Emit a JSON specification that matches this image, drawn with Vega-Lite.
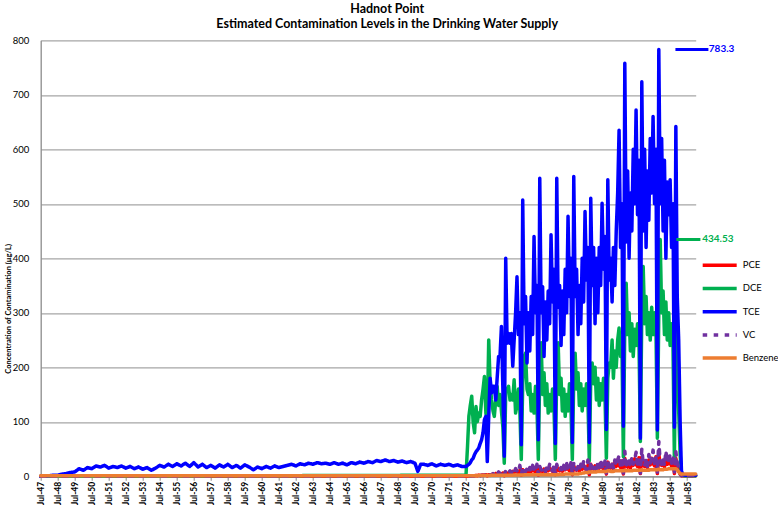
{
"$schema": "https://vega.github.io/schema/vega-lite/v6.json",
"width": 655, "height": 436,
"autosize": {"type": "none"},
"padding": {"left": 40.7, "top": 40.3, "right": 82, "bottom": 28.7},
"background": "white",
"config": {"view": {"stroke": null}, "font": "Lato", "axis": {"labelOverlap": false}},
"title": {"text": ["Hadnot Point", "Estimated Contamination Levels in the Drinking Water Supply"], "fontSize": 12.5, "fontWeight": "bold", "anchor": "middle", "frame": "group", "dx": 19, "lineHeight": 15, "offset": 5, "color": "black", "font": "Lato"},
"datasets": {
"main": [
{"d":"1947-07-01","PCE":0,"DCE":0,"TCE":0,"VC":0,"Benzene":1},
{"d":"1947-10-01","TCE":0.5,"Benzene":1},{"d":"1948-01-01","TCE":1,"Benzene":1},{"d":"1948-04-01","TCE":2,"Benzene":1},{"d":"1948-07-01","TCE":2,"Benzene":1},{"d":"1948-10-01","TCE":4,"Benzene":1},
{"d":"1949-01-01","TCE":5,"Benzene":1},{"d":"1949-04-01","TCE":7,"Benzene":1},{"d":"1949-07-01","TCE":8,"Benzene":1},{"d":"1949-10-01","TCE":14,"Benzene":1},
{"d":"1950-01-01","TCE":11,"Benzene":1},{"d":"1950-04-01","TCE":16,"Benzene":1},{"d":"1950-07-01","TCE":14,"Benzene":1},{"d":"1950-10-01","TCE":19,"Benzene":1},
{"d":"1951-01-01","TCE":17,"Benzene":1},{"d":"1951-04-01","TCE":20,"Benzene":1},{"d":"1951-07-01","TCE":15,"Benzene":1},{"d":"1951-10-01","TCE":18,"Benzene":1},
{"d":"1952-01-01","TCE":16,"Benzene":1},{"d":"1952-04-01","TCE":19,"Benzene":1},{"d":"1952-07-01","TCE":15,"Benzene":1},{"d":"1952-10-01","TCE":18,"Benzene":1},
{"d":"1953-01-01","TCE":14,"Benzene":1},{"d":"1953-04-01","TCE":17,"Benzene":1},{"d":"1953-07-01","TCE":13,"Benzene":1},{"d":"1953-10-01","TCE":16,"Benzene":1},
{"d":"1954-01-01","TCE":11,"Benzene":1},{"d":"1954-04-01","TCE":15,"Benzene":1},{"d":"1954-07-01","TCE":20,"Benzene":1},{"d":"1954-10-01","TCE":17,"Benzene":1},
{"d":"1955-01-01","TCE":22,"Benzene":1},{"d":"1955-04-01","TCE":18,"Benzene":1},{"d":"1955-07-01","TCE":23,"Benzene":1},{"d":"1955-10-01","TCE":19,"Benzene":1},
{"d":"1956-01-01","TCE":24,"Benzene":1},{"d":"1956-04-01","TCE":18,"Benzene":1},{"d":"1956-07-01","TCE":25,"Benzene":1},{"d":"1956-10-01","TCE":17,"Benzene":1},
{"d":"1957-01-01","TCE":22,"Benzene":1},{"d":"1957-04-01","TCE":16,"Benzene":1},{"d":"1957-07-01","TCE":20,"Benzene":1},{"d":"1957-10-01","TCE":15,"Benzene":1},
{"d":"1958-01-01","TCE":21,"Benzene":1},{"d":"1958-04-01","TCE":17,"Benzene":1},{"d":"1958-07-01","TCE":22,"Benzene":1},{"d":"1958-10-01","TCE":16,"Benzene":1},
{"d":"1959-01-01","TCE":20,"Benzene":1},{"d":"1959-04-01","TCE":15,"Benzene":1},{"d":"1959-07-01","TCE":21,"Benzene":1},{"d":"1959-10-01","TCE":17,"Benzene":1},
{"d":"1960-01-01","TCE":12,"Benzene":1},{"d":"1960-04-01","TCE":17,"Benzene":1},{"d":"1960-07-01","TCE":14,"Benzene":1},{"d":"1960-10-01","TCE":18,"Benzene":1},
{"d":"1961-01-01","TCE":15,"Benzene":1},{"d":"1961-04-01","TCE":19,"Benzene":1},{"d":"1961-07-01","TCE":16,"Benzene":1},{"d":"1961-10-01","TCE":18,"Benzene":1},
{"d":"1962-01-01","TCE":20,"Benzene":1},{"d":"1962-04-01","TCE":22,"Benzene":1},{"d":"1962-07-01","TCE":19,"Benzene":1},{"d":"1962-10-01","TCE":23,"Benzene":1},
{"d":"1963-01-01","TCE":21,"Benzene":1},{"d":"1963-04-01","TCE":24,"Benzene":1},{"d":"1963-07-01","TCE":22,"Benzene":1},{"d":"1963-10-01","TCE":25,"Benzene":1},
{"d":"1964-01-01","TCE":23,"Benzene":1},{"d":"1964-04-01","TCE":24,"Benzene":1},{"d":"1964-07-01","TCE":22,"Benzene":1},{"d":"1964-10-01","TCE":25,"Benzene":1},
{"d":"1965-01-01","TCE":22,"Benzene":1},{"d":"1965-04-01","TCE":24,"Benzene":1},{"d":"1965-07-01","TCE":21,"Benzene":1},{"d":"1965-10-01","TCE":25,"Benzene":1},
{"d":"1966-01-01","TCE":23,"Benzene":1},{"d":"1966-04-01","TCE":26,"Benzene":1},{"d":"1966-07-01","TCE":24,"Benzene":1},{"d":"1966-10-01","TCE":27,"Benzene":1},
{"d":"1967-01-01","TCE":25,"Benzene":1},{"d":"1967-04-01","TCE":29,"Benzene":1},{"d":"1967-07-01","TCE":27,"Benzene":1},{"d":"1967-10-01","TCE":30,"Benzene":1},
{"d":"1968-01-01","TCE":27,"Benzene":1},{"d":"1968-04-01","TCE":29,"Benzene":1},{"d":"1968-07-01","TCE":26,"Benzene":1},{"d":"1968-10-01","TCE":28,"Benzene":1},
{"d":"1969-01-01","TCE":25,"Benzene":1},{"d":"1969-04-01","TCE":27,"Benzene":1},{"d":"1969-07-01","TCE":24,"Benzene":1},{"d":"1969-09-01","TCE":9,"Benzene":1},{"d":"1969-11-01","TCE":22,"Benzene":1},
{"d":"1970-01-01","TCE":22,"Benzene":1},{"d":"1970-04-01","TCE":20,"Benzene":1},{"d":"1970-07-01","TCE":23,"Benzene":1},{"d":"1970-10-01","TCE":19,"Benzene":1},
{"d":"1971-01-01","TCE":22,"Benzene":1},{"d":"1971-04-01","TCE":20,"Benzene":1},{"d":"1971-07-01","TCE":22,"Benzene":1},{"d":"1971-10-01","TCE":19,"Benzene":1},
{"d":"1972-01-01","TCE":21,"Benzene":1},{"d":"1972-04-01","TCE":18,"Benzene":1},
{"d":"1972-07-01","PCE":0,"DCE":2,"TCE":18,"VC":0,"Benzene":1},
{"d":"1972-08-01","PCE":0,"DCE":52,"TCE":20,"VC":0,"Benzene":1},
{"d":"1972-09-01","PCE":0.5,"DCE":110,"TCE":22,"VC":0,"Benzene":1},
{"d":"1972-10-01","PCE":0.5,"DCE":130,"TCE":25,"VC":0,"Benzene":1},
{"d":"1972-11-01","PCE":1,"DCE":147,"TCE":30,"VC":0.5,"Benzene":1},
{"d":"1972-12-01","PCE":1,"DCE":100,"TCE":33,"VC":0.5,"Benzene":1},
{"d":"1973-01-01","PCE":1,"DCE":80,"TCE":40,"VC":0.5,"Benzene":1},
{"d":"1973-02-01","PCE":1.5,"DCE":128,"TCE":45,"VC":1,"Benzene":1},
{"d":"1973-03-01","PCE":1,"DCE":100,"TCE":48,"VC":1,"Benzene":1},
{"d":"1973-04-01","PCE":2,"DCE":116,"TCE":52,"VC":1.5,"Benzene":1.5},
{"d":"1973-05-01","PCE":1.5,"DCE":110,"TCE":60,"VC":1,"Benzene":1.5},
{"d":"1973-06-01","PCE":2,"DCE":140,"TCE":67,"VC":2,"Benzene":1.5},
{"d":"1973-07-01","PCE":2.5,"DCE":159,"TCE":80,"VC":1.5,"Benzene":1.5},
{"d":"1973-08-01","PCE":2,"DCE":183,"TCE":104,"VC":2,"Benzene":1.5},
{"d":"1973-09-01","PCE":3,"DCE":116,"TCE":110,"VC":3,"Benzene":1.5},
{"d":"1973-10-01","PCE":1,"DCE":100,"TCE":27,"VC":1,"Benzene":1.5},
{"d":"1973-11-01","PCE":3,"DCE":250,"TCE":110,"VC":4,"Benzene":1.5},
{"d":"1973-12-01","PCE":2.5,"DCE":170,"TCE":180,"VC":2,"Benzene":1.5},
{"d":"1974-01-01","PCE":3,"DCE":140,"TCE":153,"VC":3,"Benzene":2},
{"d":"1974-02-01","PCE":4,"DCE":120,"TCE":165,"VC":5,"Benzene":2},
{"d":"1974-03-01","PCE":3,"DCE":110,"TCE":165,"VC":3,"Benzene":2},
{"d":"1974-04-01","PCE":5,"DCE":140,"TCE":140,"VC":6,"Benzene":2},
{"d":"1974-05-01","PCE":4,"DCE":165,"TCE":180,"VC":4,"Benzene":2},
{"d":"1974-06-01","PCE":6,"DCE":130,"TCE":220,"VC":8,"Benzene":2},
{"d":"1974-07-01","PCE":5,"DCE":150,"TCE":220,"VC":5,"Benzene":2},
{"d":"1974-08-01","PCE":4,"DCE":120,"TCE":275,"VC":4,"Benzene":2},
{"d":"1974-09-01","PCE":6,"DCE":90,"TCE":160,"VC":9,"Benzene":2},
{"d":"1974-10-01","PCE":1,"DCE":24,"TCE":37,"VC":2,"Benzene":2},
{"d":"1974-11-01","PCE":7,"DCE":153,"TCE":400,"VC":10,"Benzene":2},
{"d":"1974-12-01","PCE":5,"DCE":160,"TCE":244,"VC":6,"Benzene":2},
{"d":"1975-01-01","PCE":6,"DCE":165,"TCE":262,"VC":7,"Benzene":2},
{"d":"1975-02-01","PCE":8,"DCE":140,"TCE":244,"VC":10,"Benzene":2},
{"d":"1975-03-01","PCE":5,"DCE":150,"TCE":262,"VC":6,"Benzene":2},
{"d":"1975-04-01","PCE":9,"DCE":140,"TCE":202,"VC":12,"Benzene":2},
{"d":"1975-05-01","PCE":7,"DCE":177,"TCE":250,"VC":8,"Benzene":2.5},
{"d":"1975-06-01","PCE":10,"DCE":116,"TCE":300,"VC":14,"Benzene":2.5},
{"d":"1975-07-01","PCE":8,"DCE":130,"TCE":366,"VC":10,"Benzene":2.5},
{"d":"1975-08-01","PCE":6,"DCE":160,"TCE":260,"VC":8,"Benzene":2.5},
{"d":"1975-09-01","PCE":11,"DCE":120,"TCE":300,"VC":20,"Benzene":2.5},
{"d":"1975-10-01","PCE":2,"DCE":31,"TCE":58,"VC":3,"Benzene":2.5},
{"d":"1975-11-01","PCE":12,"DCE":170,"TCE":507,"VC":16,"Benzene":2.5},
{"d":"1975-12-01","PCE":8,"DCE":220,"TCE":280,"VC":9,"Benzene":2.5},
{"d":"1976-01-01","PCE":8,"DCE":226,"TCE":330,"VC":9,"Benzene":3},
{"d":"1976-02-01","PCE":11,"DCE":160,"TCE":208,"VC":14,"Benzene":3},
{"d":"1976-03-01","PCE":7,"DCE":150,"TCE":300,"VC":8,"Benzene":3},
{"d":"1976-04-01","PCE":12,"DCE":170,"TCE":230,"VC":16,"Benzene":3},
{"d":"1976-05-01","PCE":9,"DCE":120,"TCE":330,"VC":10,"Benzene":3},
{"d":"1976-06-01","PCE":14,"DCE":150,"TCE":260,"VC":20,"Benzene":3},
{"d":"1976-07-01","PCE":10,"DCE":116,"TCE":440,"VC":12,"Benzene":3},
{"d":"1976-08-01","PCE":8,"DCE":165,"TCE":300,"VC":9,"Benzene":3},
{"d":"1976-09-01","PCE":13,"DCE":130,"TCE":350,"VC":22,"Benzene":3},
{"d":"1976-10-01","PCE":2,"DCE":31,"TCE":67,"VC":3,"Benzene":3},
{"d":"1976-11-01","PCE":15,"DCE":190,"TCE":547,"VC":18,"Benzene":3},
{"d":"1976-12-01","PCE":10,"DCE":245,"TCE":300,"VC":12,"Benzene":3},
{"d":"1977-01-01","PCE":9,"DCE":150,"TCE":348,"VC":10,"Benzene":3},
{"d":"1977-02-01","PCE":13,"DCE":190,"TCE":220,"VC":15,"Benzene":3},
{"d":"1977-03-01","PCE":8,"DCE":130,"TCE":320,"VC":9,"Benzene":3},
{"d":"1977-04-01","PCE":14,"DCE":170,"TCE":250,"VC":18,"Benzene":3},
{"d":"1977-05-01","PCE":10,"DCE":116,"TCE":340,"VC":12,"Benzene":3},
{"d":"1977-06-01","PCE":15,"DCE":150,"TCE":280,"VC":22,"Benzene":3},
{"d":"1977-07-01","PCE":12,"DCE":120,"TCE":443,"VC":13,"Benzene":3},
{"d":"1977-08-01","PCE":9,"DCE":160,"TCE":320,"VC":10,"Benzene":3},
{"d":"1977-09-01","PCE":15,"DCE":130,"TCE":380,"VC":20,"Benzene":3},
{"d":"1977-10-01","PCE":3,"DCE":31,"TCE":60,"VC":4,"Benzene":3},
{"d":"1977-11-01","PCE":17,"DCE":190,"TCE":547,"VC":22,"Benzene":3},
{"d":"1977-12-01","PCE":12,"DCE":245,"TCE":310,"VC":13,"Benzene":3},
{"d":"1978-01-01","PCE":10,"DCE":150,"TCE":350,"VC":11,"Benzene":3.5},
{"d":"1978-02-01","PCE":15,"DCE":180,"TCE":240,"VC":16,"Benzene":3.5},
{"d":"1978-03-01","PCE":9,"DCE":120,"TCE":340,"VC":10,"Benzene":3.5},
{"d":"1978-04-01","PCE":16,"DCE":160,"TCE":260,"VC":20,"Benzene":3.5},
{"d":"1978-05-01","PCE":12,"DCE":110,"TCE":380,"VC":13,"Benzene":4},
{"d":"1978-06-01","PCE":18,"DCE":150,"TCE":300,"VC":24,"Benzene":4},
{"d":"1978-07-01","PCE":13,"DCE":120,"TCE":477,"VC":14,"Benzene":4},
{"d":"1978-08-01","PCE":10,"DCE":170,"TCE":330,"VC":11,"Benzene":4},
{"d":"1978-09-01","PCE":18,"DCE":130,"TCE":400,"VC":25,"Benzene":4},
{"d":"1978-10-01","PCE":3,"DCE":31,"TCE":62,"VC":4,"Benzene":4},
{"d":"1978-11-01","PCE":19,"DCE":180,"TCE":550,"VC":24,"Benzene":4},
{"d":"1978-12-01","PCE":13,"DCE":226,"TCE":330,"VC":14,"Benzene":4},
{"d":"1979-01-01","PCE":11,"DCE":160,"TCE":380,"VC":12,"Benzene":4},
{"d":"1979-02-01","PCE":16,"DCE":190,"TCE":260,"VC":18,"Benzene":4},
{"d":"1979-03-01","PCE":10,"DCE":130,"TCE":350,"VC":11,"Benzene":5},
{"d":"1979-04-01","PCE":18,"DCE":170,"TCE":280,"VC":22,"Benzene":5},
{"d":"1979-05-01","PCE":13,"DCE":120,"TCE":400,"VC":14,"Benzene":6},
{"d":"1979-06-01","PCE":20,"DCE":160,"TCE":320,"VC":28,"Benzene":6},
{"d":"1979-07-01","PCE":15,"DCE":130,"TCE":486,"VC":16,"Benzene":7},
{"d":"1979-08-01","PCE":11,"DCE":170,"TCE":360,"VC":12,"Benzene":7},
{"d":"1979-09-01","PCE":20,"DCE":140,"TCE":420,"VC":30,"Benzene":7},
{"d":"1979-10-01","PCE":3,"DCE":28,"TCE":62,"VC":4,"Benzene":8},
{"d":"1979-11-01","PCE":22,"DCE":180,"TCE":510,"VC":26,"Benzene":8},
{"d":"1979-12-01","PCE":15,"DCE":208,"TCE":350,"VC":16,"Benzene":8},
{"d":"1980-01-01","PCE":13,"DCE":170,"TCE":420,"VC":14,"Benzene":8},
{"d":"1980-02-01","PCE":19,"DCE":200,"TCE":280,"VC":20,"Benzene":8},
{"d":"1980-03-01","PCE":12,"DCE":140,"TCE":400,"VC":13,"Benzene":8},
{"d":"1980-04-01","PCE":21,"DCE":180,"TCE":300,"VC":25,"Benzene":9},
{"d":"1980-05-01","PCE":15,"DCE":130,"TCE":420,"VC":16,"Benzene":9},
{"d":"1980-06-01","PCE":24,"DCE":170,"TCE":350,"VC":30,"Benzene":9},
{"d":"1980-07-01","PCE":17,"DCE":140,"TCE":501,"VC":18,"Benzene":9},
{"d":"1980-08-01","PCE":13,"DCE":180,"TCE":380,"VC":14,"Benzene":9},
{"d":"1980-09-01","PCE":24,"DCE":150,"TCE":440,"VC":28,"Benzene":9},
{"d":"1980-10-01","PCE":4,"DCE":33,"TCE":86,"VC":5,"Benzene":9},
{"d":"1980-11-01","PCE":26,"DCE":180,"TCE":544,"VC":30,"Benzene":10},
{"d":"1980-12-01","PCE":17,"DCE":208,"TCE":360,"VC":18,"Benzene":10},
{"d":"1981-01-01","PCE":15,"DCE":200,"TCE":400,"VC":16,"Benzene":9},
{"d":"1981-02-01","PCE":22,"DCE":250,"TCE":320,"VC":24,"Benzene":9},
{"d":"1981-03-01","PCE":14,"DCE":180,"TCE":420,"VC":15,"Benzene":9},
{"d":"1981-04-01","PCE":25,"DCE":230,"TCE":350,"VC":30,"Benzene":10},
{"d":"1981-05-01","PCE":18,"DCE":200,"TCE":450,"VC":20,"Benzene":10},
{"d":"1981-06-01","PCE":30,"DCE":250,"TCE":520,"VC":30,"Benzene":10},
{"d":"1981-07-01","PCE":20,"DCE":272,"TCE":635,"VC":38,"Benzene":10},
{"d":"1981-08-01","PCE":16,"DCE":220,"TCE":420,"VC":18,"Benzene":10},
{"d":"1981-09-01","PCE":28,"DCE":230,"TCE":500,"VC":28,"Benzene":10},
{"d":"1981-10-01","PCE":4,"DCE":36,"TCE":92,"VC":6,"Benzene":10},
{"d":"1981-11-01","PCE":33,"DCE":280,"TCE":758,"VC":46,"Benzene":11},
{"d":"1981-12-01","PCE":20,"DCE":354,"TCE":430,"VC":22,"Benzene":10},
{"d":"1982-01-01","PCE":17,"DCE":260,"TCE":560,"VC":18,"Benzene":10},
{"d":"1982-02-01","PCE":25,"DCE":300,"TCE":400,"VC":28,"Benzene":10},
{"d":"1982-03-01","PCE":15,"DCE":230,"TCE":520,"VC":17,"Benzene":10},
{"d":"1982-04-01","PCE":28,"DCE":280,"TCE":450,"VC":35,"Benzene":10},
{"d":"1982-05-01","PCE":20,"DCE":220,"TCE":600,"VC":22,"Benzene":11},
{"d":"1982-06-01","PCE":32,"DCE":270,"TCE":500,"VC":30,"Benzene":11},
{"d":"1982-07-01","PCE":22,"DCE":240,"TCE":672,"VC":44,"Benzene":11},
{"d":"1982-08-01","PCE":18,"DCE":280,"TCE":480,"VC":20,"Benzene":11},
{"d":"1982-09-01","PCE":34,"DCE":250,"TCE":580,"VC":30,"Benzene":11},
{"d":"1982-10-01","PCE":5,"DCE":64,"TCE":70,"VC":6,"Benzene":11},
{"d":"1982-11-01","PCE":35,"DCE":300,"TCE":724,"VC":50,"Benzene":12},
{"d":"1982-12-01","PCE":22,"DCE":385,"TCE":450,"VC":24,"Benzene":11},
{"d":"1983-01-01","PCE":18,"DCE":280,"TCE":600,"VC":20,"Benzene":11},
{"d":"1983-02-01","PCE":27,"DCE":330,"TCE":420,"VC":30,"Benzene":11},
{"d":"1983-03-01","PCE":16,"DCE":260,"TCE":560,"VC":18,"Benzene":11},
{"d":"1983-04-01","PCE":30,"DCE":300,"TCE":470,"VC":40,"Benzene":11},
{"d":"1983-05-01","PCE":21,"DCE":250,"TCE":620,"VC":24,"Benzene":12},
{"d":"1983-06-01","PCE":33,"DCE":310,"TCE":520,"VC":32,"Benzene":12},
{"d":"1983-07-01","PCE":24,"DCE":260,"TCE":660,"VC":48,"Benzene":12},
{"d":"1983-08-01","PCE":19,"DCE":300,"TCE":500,"VC":22,"Benzene":12},
{"d":"1983-09-01","PCE":36,"DCE":270,"TCE":600,"VC":34,"Benzene":12},
{"d":"1983-10-01","PCE":5,"DCE":70,"TCE":85,"VC":7,"Benzene":12},
{"d":"1983-11-01","PCE":40,"DCE":300,"TCE":783.3,"VC":64,"Benzene":13},
{"d":"1983-12-01","PCE":24,"DCE":434.53,"TCE":500,"VC":26,"Benzene":12},
{"d":"1984-01-01","PCE":20,"DCE":300,"TCE":620,"VC":22,"Benzene":12},
{"d":"1984-02-01","PCE":28,"DCE":340,"TCE":450,"VC":32,"Benzene":12},
{"d":"1984-03-01","PCE":17,"DCE":260,"TCE":580,"VC":20,"Benzene":13},
{"d":"1984-04-01","PCE":30,"DCE":320,"TCE":400,"VC":46,"Benzene":13},
{"d":"1984-05-01","PCE":22,"DCE":250,"TCE":540,"VC":26,"Benzene":13},
{"d":"1984-06-01","PCE":32,"DCE":300,"TCE":480,"VC":30,"Benzene":14},
{"d":"1984-07-01","PCE":24,"DCE":240,"TCE":544,"VC":40,"Benzene":14},
{"d":"1984-08-01","PCE":19,"DCE":280,"TCE":420,"VC":24,"Benzene":14},
{"d":"1984-09-01","PCE":30,"DCE":238,"TCE":500,"VC":35,"Benzene":14},
{"d":"1984-10-01","PCE":5,"DCE":30,"TCE":90,"VC":8,"Benzene":14},
{"d":"1984-11-01","PCE":33,"DCE":330,"TCE":642,"VC":45,"Benzene":14},
{"d":"1984-12-01","PCE":20,"DCE":200,"TCE":330,"VC":25,"Benzene":12},
{"d":"1985-01-01","PCE":12,"DCE":120,"TCE":250,"VC":15,"Benzene":8},
{"d":"1985-02-01","PCE":4,"DCE":40,"TCE":100,"VC":4,"Benzene":5},
{"d":"1985-03-01","PCE":1,"DCE":5,"TCE":10,"VC":1,"Benzene":4},
{"d":"1985-04-01","PCE":1,"DCE":2,"TCE":3,"VC":1,"Benzene":4},
{"d":"1985-05-01","PCE":1,"DCE":1,"TCE":2.5,"VC":1,"Benzene":4},
{"d":"1985-06-01","PCE":1,"DCE":1,"TCE":2,"VC":1,"Benzene":4},
{"d":"1985-07-01","PCE":1,"DCE":1,"TCE":2,"VC":1,"Benzene":4},
{"d":"1985-08-01","PCE":1,"DCE":1,"TCE":2,"VC":1,"Benzene":4},
{"d":"1985-09-01","PCE":1,"DCE":1,"TCE":2,"VC":1,"Benzene":4},
{"d":"1985-10-01","PCE":1,"DCE":1,"TCE":2,"VC":1,"Benzene":4},
{"d":"1985-11-01","PCE":1,"DCE":1,"TCE":2,"VC":1,"Benzene":4},
{"d":"1985-12-01","PCE":1,"DCE":1,"TCE":2,"VC":1,"Benzene":4},
{"d":"1986-01-01","PCE":1,"DCE":1,"TCE":2,"VC":1,"Benzene":4}
],
"ann": [
{"k":"TCE","val":783.3,"x1":"1984-10-23","x2":"1986-10-01","tx":"1986-10-10","label":"783.3"},
{"k":"DCE","val":434.53,"x1":"1984-11-13","x2":"1986-04-12","tx":"1986-05-20","label":"434.53"}
]
},
"layer": [
{
"data": {"name": "main"},
"transform": [{"fold": ["PCE","DCE","TCE","VC","Benzene"], "as": ["k","v"]}, {"filter": "isValid(datum.v)"}],
"mark": {"type": "line", "strokeWidth": 3.5, "strokeCap": "round", "strokeJoin": "round"},
"encoding": {
"x": {"field": "d", "type": "temporal",
"scale": {"domain": [{"year":1947,"month":7,"date":1},{"year":1986,"month":1,"date":1}]},
"axis": {"title": null, "format": "%b-%y", "labelAngle": -90, "grid": false, "tickCount": 60, "tickSize": 4, "tickColor": "#8c8c8c", "domainColor": "#8c8c8c", "domainWidth": 1.3, "labelFontSize": 8.5, "labelFontWeight": "bold", "labelPadding": 1, "labelColor": "black", "labelOverlap": false, "labelFont": "Lato",
"values": [{"year":1947,"month":7,"date":1},{"year":1948,"month":7,"date":1},{"year":1949,"month":7,"date":1},{"year":1950,"month":7,"date":1},{"year":1951,"month":7,"date":1},{"year":1952,"month":7,"date":1},{"year":1953,"month":7,"date":1},{"year":1954,"month":7,"date":1},{"year":1955,"month":7,"date":1},{"year":1956,"month":7,"date":1},{"year":1957,"month":7,"date":1},{"year":1958,"month":7,"date":1},{"year":1959,"month":7,"date":1},{"year":1960,"month":7,"date":1},{"year":1961,"month":7,"date":1},{"year":1962,"month":7,"date":1},{"year":1963,"month":7,"date":1},{"year":1964,"month":7,"date":1},{"year":1965,"month":7,"date":1},{"year":1966,"month":7,"date":1},{"year":1967,"month":7,"date":1},{"year":1968,"month":7,"date":1},{"year":1969,"month":7,"date":1},{"year":1970,"month":7,"date":1},{"year":1971,"month":7,"date":1},{"year":1972,"month":7,"date":1},{"year":1973,"month":7,"date":1},{"year":1974,"month":7,"date":1},{"year":1975,"month":7,"date":1},{"year":1976,"month":7,"date":1},{"year":1977,"month":7,"date":1},{"year":1978,"month":7,"date":1},{"year":1979,"month":7,"date":1},{"year":1980,"month":7,"date":1},{"year":1981,"month":7,"date":1},{"year":1982,"month":7,"date":1},{"year":1983,"month":7,"date":1},{"year":1984,"month":7,"date":1},{"year":1985,"month":7,"date":1}]}},
"y": {"field": "v", "type": "quantitative", "scale": {"domain": [0, 800], "nice": false},
"axis": {"values": [0,100,200,300,400,500,600,700,800], "grid": true, "gridColor": "#a6a6a6", "gridWidth": 1.3, "ticks": false, "domainColor": "#8c8c8c", "domainWidth": 1.3, "labelPadding": 12, "labelFontSize": 9.5, "labelColor": "black", "labelFont": "Lato", "title": "Concentration of Contamination (µg/L)", "titleFont": "Lato", "titleFontSize": 7.5, "titleFontWeight": "bold", "titleColor": "black", "titleX": -32, "titleY": 268, "titleAlign": "center", "titleBaseline": "middle", "titleAngle": -90}},
"color": {"field": "k", "type": "nominal",
"scale": {"domain": ["PCE","DCE","TCE","VC","Benzene"], "range": ["#ff0000","#00b050","#0000ff","#7030a0","#ed7d31"]},
"legend": {"title": null, "orient": "none", "legendX": 660, "legendY": 219, "symbolType": "stroke", "symbolSize": 1156, "symbolStrokeWidth": 3.5, "labelFontSize": 9.5, "labelFont": "Lato", "labelColor": "black", "clipHeight": 12, "rowPadding": 11.2, "labelOffset": 4, "padding": 0, "symbolOffset": 0}},
"strokeDash": {"field": "k", "type": "nominal",
"scale": {"domain": ["PCE","DCE","TCE","VC","Benzene"], "range": [[1,0],[1,0],[1,0],[4.5,6.5],[1,0]]},
"legend": {"title": null, "orient": "none", "legendX": 660, "legendY": 219, "symbolType": "stroke", "symbolSize": 1156, "symbolStrokeWidth": 3.5, "labelFontSize": 9.5, "labelFont": "Lato", "labelColor": "black", "clipHeight": 12, "rowPadding": 11.2, "labelOffset": 4, "padding": 0, "symbolOffset": 0}}
}
},
{
"data": {"name": "ann"},
"mark": {"type": "rule", "strokeWidth": 3},
"encoding": {
"x": {"field": "x1", "type": "temporal"},
"x2": {"field": "x2"},
"y": {"field": "val", "type": "quantitative"},
"color": {"field": "k", "type": "nominal", "legend": null}
}
},
{
"data": {"name": "ann"},
"mark": {"type": "text", "align": "left", "baseline": "middle", "fontSize": 10, "fontWeight": "bold", "font": "Lato"},
"encoding": {
"x": {"field": "tx", "type": "temporal"},
"y": {"field": "val", "type": "quantitative"},
"text": {"field": "label"},
"color": {"field": "k", "type": "nominal", "legend": null}
}
}
]
}
